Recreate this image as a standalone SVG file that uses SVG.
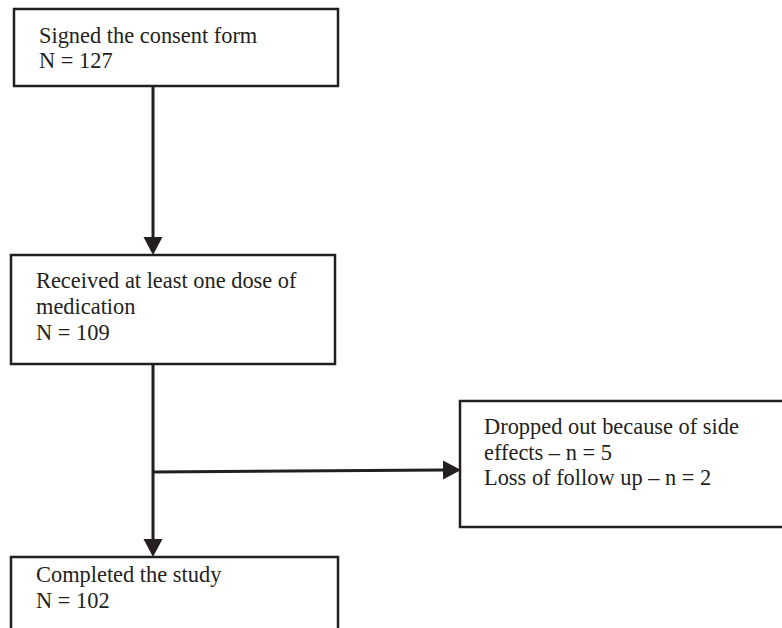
<svg xmlns="http://www.w3.org/2000/svg" width="782" height="628" viewBox="0 0 782 628">
<style>
.box{fill:#ffffff;stroke:#231f20;stroke-width:2.5}
.lbl{font-family:"Liberation Serif","Times New Roman",serif;font-size:22.4px;fill:#231f20}
.conn{stroke:#231f20;stroke-width:3;fill:none}
</style>
<defs>
<marker id="arr" markerUnits="userSpaceOnUse" markerWidth="18" markerHeight="20" refX="0" refY="9.5" orient="auto">
<path d="M0,0 L18,9.5 L0,19 z" fill="#231f20"/>
</marker>
</defs>
<rect width="782" height="628" fill="#ffffff"/>
<g id="connectors">
<line class="conn" x1="153" y1="86" x2="153" y2="237" marker-end="url(#arr)"/>
<line class="conn" x1="153" y1="364" x2="153" y2="539" marker-end="url(#arr)"/>
<line class="conn" x1="153" y1="472" x2="443" y2="470" marker-end="url(#arr)"/>
</g>
<g id="node-consent">
<rect class="box" x="14" y="9" width="324" height="77"/>
<text class="lbl" x="39" y="43">Signed the consent form</text>
<text class="lbl" x="39" y="68">N = 127</text>
</g>
<g id="node-dose">
<rect class="box" x="11" y="255" width="324" height="109"/>
<text class="lbl" x="36" y="288">Received at least one dose of</text>
<text class="lbl" x="36" y="314">medication</text>
<text class="lbl" x="36" y="340">N = 109</text>
</g>
<g id="node-dropout">
<rect class="box" x="460" y="401" width="330" height="126"/>
<text class="lbl" x="484" y="434">Dropped out because of side</text>
<text class="lbl" x="484" y="460">effects – n = 5</text>
<text class="lbl" x="484" y="485">Loss of follow up – n = 2</text>
</g>
<g id="node-completed">
<rect class="box" x="11" y="557" width="327" height="80"/>
<text class="lbl" x="36" y="582">Completed the study</text>
<text class="lbl" x="36" y="608">N = 102</text>
</g>
</svg>
